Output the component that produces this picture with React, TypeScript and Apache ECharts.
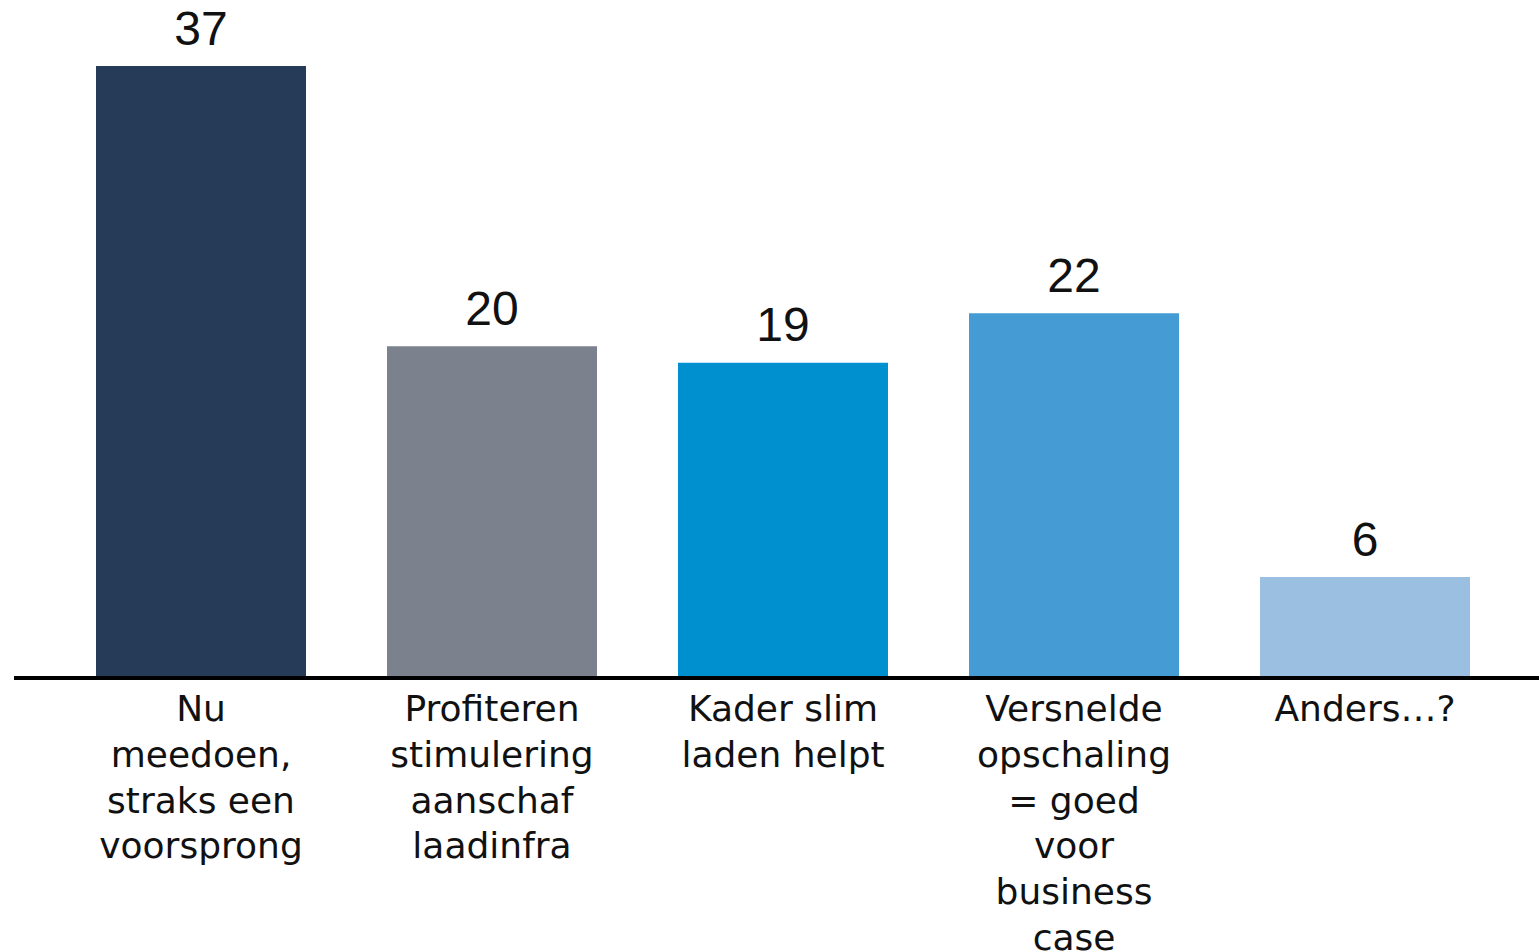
import React, { useEffect, useRef } from "react";
import * as echarts from "echarts";

const categories = [
  "Nu\nmeedoen,\nstraks een\nvoorsprong",
  "Profiteren\nstimulering\naanschaf\nlaadinfra",
  "Kader slim\nladen helpt",
  "Versnelde\nopschaling\n= goed\nvoor\nbusiness\ncase",
  "Anders…?",
];
const values = [37, 20, 19, 22, 6];
const barColors = ["#263b58", "#7b818d", "#0090d0", "#459bd4", "#9bbfe1"];

export default function App() {
  const ref = useRef<HTMLDivElement>(null);
  useEffect(() => {
    if (!ref.current) return;
    const chart = echarts.init(ref.current, null, { renderer: "svg" });
    chart.setOption({
      animation: false,
      grid: {
        left: 55.5,
        right: 28.5,
        top: 66,
        bottom: 276,
        containLabel: false,
        outerBoundsMode: "none",
      },
      xAxis: {
        type: "category",
        data: categories,
        axisLine: { show: false },
        axisTick: { show: false },
        axisLabel: {
          interval: 0,
          margin: 10,
          color: "#111",
          fontFamily: "'DejaVu Sans', sans-serif",
          fontSize: 36,
          lineHeight: 45.7,
          verticalAlign: "top",
          hideOverlap: false,
        },
      },
      yAxis: {
        type: "value",
        min: 0,
        max: 37,
        show: false,
        splitLine: { show: false },
      },
      series: [
        {
          type: "bar",
          barWidth: 210,
          data: values.map((v, i) => ({ value: v, itemStyle: { color: barColors[i] } })),
          label: {
            show: true,
            position: "top",
            distance: 14,
            color: "#111",
            fontFamily: "'Liberation Sans', Arial, sans-serif",
            fontSize: 48,
          },
        },
      ],
    });
    const y0 = chart.convertToPixel({ yAxisIndex: 0 }, 0) as number;
    chart.setOption({
      graphic: [
        {
          type: "line",
          shape: { x1: 14, y1: y0 + 2, x2: 1539, y2: y0 + 2 },
          style: { stroke: "#000", lineWidth: 4 },
          z: 100,
        },
      ],
    });
    return () => chart.dispose();
  }, []);
  return (
    <div
      ref={ref}
      style={{ position: "absolute", left: 0, top: 0, width: 1539, height: 952, background: "#fff" }}
    />
  );
}
